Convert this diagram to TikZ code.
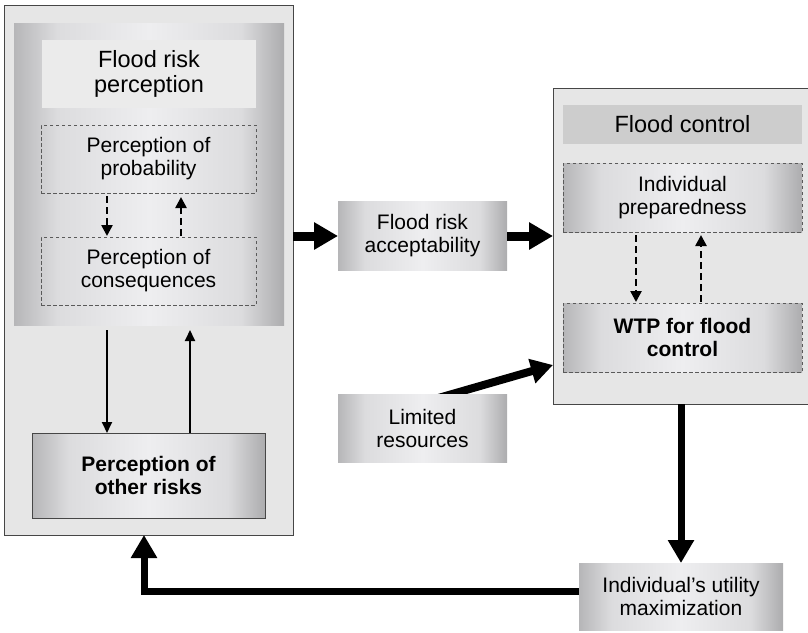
\documentclass[tikz,border=0pt]{standalone}
\usepackage{fontspec}
\setmainfont{Liberation Sans}
\usetikzlibrary{arrows.meta,calc}
\pgfdeclarelayer{background}
\pgfsetlayers{background,main}
\definecolor{boxbg}{RGB}{230,230,230}
\definecolor{gedgeL}{RGB}{182,182,184}
\definecolor{gedgeR}{RGB}{172,172,174}
\definecolor{gq}{RGB}{220,220,222}
\definecolor{gmid}{RGB}{238,238,240}
\definecolor{titlebg}{RGB}{235,235,235}
\definecolor{fctitle}{RGB}{205,205,205}
\definecolor{bordercol}{RGB}{70,70,70}
\definecolor{dashcol}{RGB}{90,90,90}
\pgfdeclarehorizontalshading{pillow}{100bp}{color(0bp)=(gedgeL); color(25bp)=(gedgeL); color(33bp)=(gq); color(50bp)=(gmid); color(67bp)=(gq); color(75bp)=(gedgeR); color(100bp)=(gedgeR)}
\tikzset{
  x=1pt, y=-1pt,
  base/.style={rectangle, inner sep=0pt, outer sep=0pt, align=center, text=black},
  outerbox/.style={base, fill=boxbg, draw=bordercol, line width=1pt},
  grad/.style={shading=pillow},
  gradbox/.style={base, grad},
  txt/.style={font=\fontsize{21}{23}\selectfont},
  titletxt/.style={font=\fontsize{23.5}{25}\selectfont},
  boldtxt/.style={font=\fontsize{21}{23}\selectfont\bfseries},
  dashbox/.style={base, draw=dashcol, line width=0.8pt, dash pattern=on 3.5pt off 2.5pt},
  thinarrow/.style={line width=1.8pt, -{Triangle[width=10pt,length=11pt]}},
  dasharrow/.style={line width=2.5pt, dash pattern=on 7pt off 4pt, -{Triangle[width=11pt,length=11pt]}},
  bigarrow/.style={line width=7pt, -{Triangle[width=25pt,length=23pt]}},
  accarrow/.style={line width=9pt, -{Triangle[width=26pt,length=24pt]}},
}
\begin{document}
\begin{tikzpicture}
\useasboundingbox (0,0) rectangle (808,632);
\clip (0,0) rectangle (808,632);

% left structure
\node[outerbox, minimum width=289pt, minimum height=530pt] (lbox) at (148.5,270) {};
\node[gradbox, minimum width=270pt, minimum height=302pt] (lpanel) at (149,174) {};
\node[base, fill=titlebg, minimum width=214pt, minimum height=68pt, titletxt] (frp) at (149,74) {Flood risk\\perception};
\node[dashbox, minimum width=215pt, minimum height=68pt, txt] (prob) at (148.5,159) {Perception of\\probability};
\node[dashbox, minimum width=215pt, minimum height=68pt, txt] (cons) at (148.5,271) {Perception of\\consequences};
\node[gradbox, draw=bordercol, line width=1pt, minimum width=233pt, minimum height=85pt, boldtxt] (other) at (148.5,475.5) {Perception of\\other risks};

% middle
\node[gradbox, minimum width=169pt, minimum height=69pt, txt] (acc) at (422.5,236) {Flood risk\\acceptability};
\node[gradbox, minimum width=169pt, minimum height=68pt, txt] (lim) at (422.5,428) {Limited\\resources};

% right structure
\node[outerbox, minimum width=258pt, minimum height=316pt] (rbox) at (682,246) {};
\node[base, fill=fctitle, minimum width=239pt, minimum height=39pt, titletxt] (fc) at (682.5,124.5) {Flood control};
\node[dashbox, grad, minimum width=239pt, minimum height=69pt, txt] (ind) at (682.5,197.5) {Individual\\preparedness};
\node[dashbox, grad, minimum width=239pt, minimum height=69pt, boldtxt] (wtp) at (682.5,337.5) {WTP for flood\\control};

% bottom
\node[gradbox, minimum width=204pt, minimum height=67pt, txt] (util) at (681,596.5) {Individual's utility\\maximization};

% dashed arrows left
\draw[dasharrow] ([xshift=-41.5pt,yshift=-3pt]prob.south) -- ([xshift=-41.5pt,yshift=1pt]cons.north);
\draw[dasharrow] ([xshift=32.5pt,yshift=1pt]cons.north) -- ([xshift=32.5pt,yshift=-4pt]prob.south);

% thin arrows
\coordinate (pb) at (lpanel.south -| prob.south);
\draw[thinarrow] ([xshift=-41.5pt,yshift=-5pt]pb) -- ([xshift=-41.5pt]other.north);
\draw[thinarrow] ([xshift=41.5pt]other.north) -- ([xshift=41.5pt,yshift=-5pt]pb);

% dashed arrows right
\draw[dasharrow] ([xshift=-46.5pt,yshift=-3pt]ind.south) -- ([xshift=-46.5pt,yshift=1pt]wtp.north);
\draw[dasharrow] ([xshift=18.5pt,yshift=1pt]wtp.north) -- ([xshift=18.5pt,yshift=-3pt]ind.south);

% acceptability arrows
\draw[accarrow] (lbox.east |- acc.west) -- (acc.west);
\draw[accarrow] (acc.east) -- (rbox.west |- acc.east);

% limited resources arrow (behind its box)
\coordinate (limtip) at (rbox.west |- 0,365);
\begin{pgfonlayer}{background}
\draw[line width=8pt, -{Triangle[width=24pt,length=22pt]}] ($(lim.north)+(-5,10)$) -- (limtip);
\end{pgfonlayer}

% utility arrows
\coordinate (bendx) at (144,0);
\draw[bigarrow] (rbox.south -| util.north) -- (util.north);
\draw[bigarrow] ([yshift=5.5pt]util.west) -- ([yshift=5.5pt]util.west -| bendx) -- (lbox.south -| bendx);
\end{tikzpicture}
\end{document}
